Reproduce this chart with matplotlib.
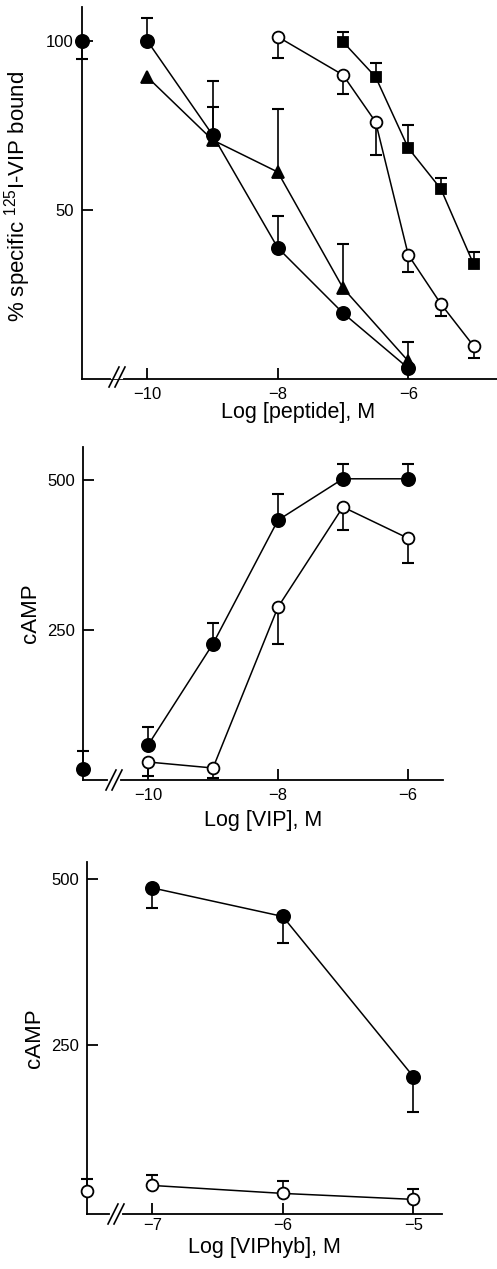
import numpy as np
import matplotlib
matplotlib.use("Agg")
import matplotlib.pyplot as plt
from matplotlib.lines import Line2D

plt.rcParams['font.family'] = ['Liberation Sans', 'DejaVu Sans']
plt.rcParams['mathtext.default'] = 'regular'

# ---------------- data ----------------
# Panel 1: % specific 125I-VIP bound vs Log [peptide]
p1_ctrl_x = [-11]
p1_ctrl_y = [100]
p1_ctrl_lo = [5.5]
p1_ctrl_hi = [0]

p1_fcirc_x = [-10, -9, -8, -7, -6]
p1_fcirc_y = [100, 72.2, 38.8, 19.5, 3.2]
p1_fcirc_lo = [0, 0, 0, 0, 0]
p1_fcirc_hi = [6.8, 16, 9.4, 0, 0]

p1_tri_x = [-10, -9, -8, -7, -6]
p1_tri_y = [89.3, 70.7, 61.2, 26.9, 5.3]
p1_tri_lo = [0, 0, 0, 0, 0]
p1_tri_hi = [0, 9.8, 18.7, 13.1, 5.6]

p1_ocirc_x = [-8, -7, -6.5, -6, -5.5, -5]
p1_ocirc_y = [101.2, 89.9, 76, 36.7, 22.2, 9.8]
p1_ocirc_lo = [6.2, 5.6, 9.7, 5.0, 3.6, 3.6]
p1_ocirc_hi = [0, 0, 0, 0, 0, 0]

p1_sq_x = [-7, -6.5, -6, -5.5, -5]
p1_sq_y = [99.7, 89.3, 68.3, 56.2, 34]
p1_sq_lo = [0, 0, 0, 0, 0]
p1_sq_hi = [3.0, 4.2, 6.8, 3.3, 3.6]

# Panel 2: cAMP vs Log [VIP]
p2_ctrl_x = [-11]
p2_ctrl_y = [18]
p2_ctrl_lo = [0]
p2_ctrl_hi = [30]

p2_fill_x = [-10, -9, -8, -7, -6]
p2_fill_y = [58, 227, 433, 502, 502]
p2_fill_lo = [0, 0, 0, 0, 0]
p2_fill_hi = [30, 35, 44, 25, 25]

p2_open_x = [-10, -9, -8, -7, -6]
p2_open_y = [30, 20, 288, 455, 403]
p2_open_lo = [23, 17, 61, 38, 41]
p2_open_hi = [0, 0, 0, 0, 0]

# Panel 3: cAMP vs Log [VIPhyb]
p3_ctrl_x = [-7.5]
p3_ctrl_y = [29]
p3_ctrl_lo = [0]
p3_ctrl_hi = [19]

p3_fill_x = [-7, -6, -5]
p3_fill_y = [486, 443, 202]
p3_fill_lo = [31, 40, 54]
p3_fill_hi = [0, 0, 0]

p3_open_x = [-7, -6, -5]
p3_open_y = [38, 26, 17]
p3_open_lo = [0, 0, 0]
p3_open_hi = [16, 19, 16]

p1_xticks = [-10, -8, -6]
p1_yticks = [50, 100]
p2_xticks = [-10, -8, -6]
p2_yticks = [250, 500]
p3_xticks = [-7, -6, -5]
p3_yticks = [250, 500]

# ---------------- figure ----------------
W, H = 497, 1269
fig = plt.figure(figsize=(W / 100, H / 100), dpi=100)


def rect(l, r, top, bottom):
    return [l / W, 1 - bottom / H, (r - l) / W, (bottom - top) / H]


def style(ax, xt, yt, xpad=6):
    for s in ['top', 'right']:
        ax.spines[s].set_visible(False)
    for s in ['left', 'bottom']:
        ax.spines[s].set_linewidth(1.3)
    ax.set_xticks(xt)
    ax.set_yticks(yt)
    ax.set_xticklabels([f"\u2212{abs(v)}" for v in xt])
    ax.set_yticklabels([str(v) for v in yt])
    ax.tick_params(direction='in', length=8, width=1.3, labelsize=12, pad=6)
    ax.tick_params(axis='x', pad=xpad)
    ax.set_facecolor('none')


def series(ax, x, y, lo, hi, marker, filled, ms, line=True):
    x = np.asarray(x, float)
    y = np.asarray(y, float)
    lo = np.asarray(lo, float)
    hi = np.asarray(hi, float)
    if line:
        ax.plot(x, y, '-', color='black', lw=1.1, zorder=2, clip_on=False)
    for xi, yi, l, h in zip(x, y, lo, hi):
        if h > 0:
            ax.plot([xi, xi], [yi, yi + h], color='black', lw=1.2, zorder=1, clip_on=False)
            ax.plot([xi], [yi + h], marker='_', ms=9, mew=1.5, color='black', zorder=1, clip_on=False)
        if l > 0:
            ax.plot([xi, xi], [yi, yi - l], color='black', lw=1.2, zorder=1, clip_on=False)
            ax.plot([xi], [yi - l], marker='_', ms=9, mew=1.5, color='black', zorder=1, clip_on=False)
    ax.plot(x, y, ls='none', marker=marker, ms=ms,
            mfc='black' if filled else 'white', mec='black', mew=1.3,
            zorder=3, clip_on=False)


def brk(xc, yc):
    # axis break "//" drawn in figure pixels
    def f(px, py):
        return px / W, 1 - py / H
    x0, y0 = f(xc - 4, yc)
    x1, y1 = f(xc + 4, yc)
    fig.add_artist(Line2D([x0, x1], [y0, y1], color='white', lw=3, transform=fig.transFigure, zorder=10))
    for dx in (-3, 3):
        a = f(xc + dx - 5, yc + 10)
        b = f(xc + dx + 5, yc - 10)
        fig.add_artist(Line2D([a[0], b[0]], [a[1], b[1]], color='black', lw=1.2,
                              transform=fig.transFigure, zorder=11))


XL = 15.5
YL = 16

# Panel 1
ax1 = fig.add_axes(rect(82, 497, 7, 379))
ax1.set_xlim(-11, -4.64)
ax1.set_ylim(0, 110)
style(ax1, p1_xticks, p1_yticks)
series(ax1, p1_ctrl_x, p1_ctrl_y, p1_ctrl_lo, p1_ctrl_hi, 'o', True, 9.5, line=False)
series(ax1, p1_fcirc_x, p1_fcirc_y, p1_fcirc_lo, p1_fcirc_hi, 'o', True, 9.5)
series(ax1, p1_tri_x, p1_tri_y, p1_tri_lo, p1_tri_hi, '^', True, 8)
series(ax1, p1_ocirc_x, p1_ocirc_y, p1_ocirc_lo, p1_ocirc_hi, 'o', False, 8.5)
series(ax1, p1_sq_x, p1_sq_y, p1_sq_lo, p1_sq_hi, 's', True, 7.5)
ax1.set_xlabel('Log [peptide], M', fontsize=XL)
ax1.xaxis.set_label_coords(0.52, -0.062)
ax1.set_ylabel('% specific $^{125}$I-VIP bound', fontsize=16)
ax1.yaxis.set_label_coords(-0.117, 0.49)
brk(117, 377)

# Panel 2
ax2 = fig.add_axes(rect(83, 443, 447, 780))
ax2.set_xlim(-11, -5.46)
ax2.set_ylim(0, 555)
style(ax2, p2_xticks, p2_yticks)
series(ax2, p2_ctrl_x, p2_ctrl_y, p2_ctrl_lo, p2_ctrl_hi, 'o', True, 9.5, line=False)
series(ax2, p2_fill_x, p2_fill_y, p2_fill_lo, p2_fill_hi, 'o', True, 9.5)
series(ax2, p2_open_x, p2_open_y, p2_open_lo, p2_open_hi, 'o', False, 8.5)
ax2.set_xlabel('Log [VIP], M', fontsize=XL, labelpad=4.5)
ax2.set_ylabel('cAMP', fontsize=YL, labelpad=4)
brk(114, 780)

# Panel 3
ax3 = fig.add_axes(rect(87, 442, 862, 1214))
ax3.set_xlim(-7.5, -4.78)
ax3.set_ylim(-5, 525)
style(ax3, p3_xticks, p3_yticks, xpad=3)
series(ax3, p3_ctrl_x, p3_ctrl_y, p3_ctrl_lo, p3_ctrl_hi, 'o', False, 8.5, line=False)
series(ax3, p3_fill_x, p3_fill_y, p3_fill_lo, p3_fill_hi, 'o', True, 9.5)
series(ax3, p3_open_x, p3_open_y, p3_open_lo, p3_open_hi, 'o', False, 8.5)
ax3.set_xlabel('Log [VIPhyb], M', fontsize=XL, labelpad=3)
ax3.set_ylabel('cAMP', fontsize=YL, labelpad=4)
brk(116, 1214)

fig.savefig('out.png', dpi=100)
